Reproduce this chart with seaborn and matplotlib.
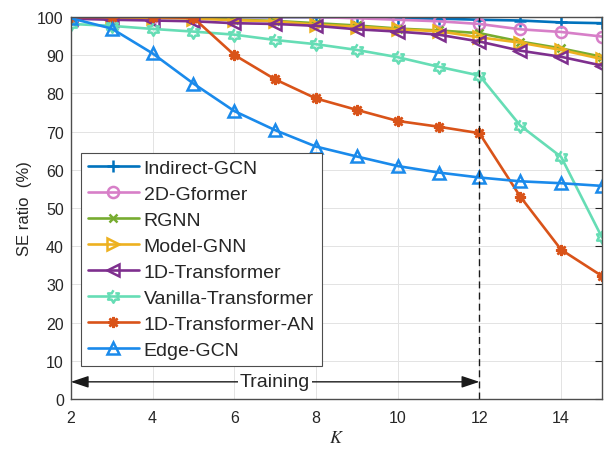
import numpy as np
import pandas as pd
import matplotlib
matplotlib.use('Agg')
import matplotlib.pyplot as plt
import seaborn as sns

# K values (number of users) and SE ratio (%) for each model
K = [2, 3, 4, 5, 6, 7, 8, 9, 10, 11, 12, 13, 14, 15]

indirect_gcn = [100, 100, 100, 100, 100, 100, 100, 99.9, 99.7, 99.6, 99.3, 99.1, 98.6, 98.4]
gformer_2d = [100, 100, 100, 100, 100, 100, 100, 99.7, 99.3, 98.9, 98.2, 96.8, 96.1, 94.9]
rgnn = [100, 100, 100, 99.8, 99.3, 99.0, 98.4, 97.8, 97.0, 96.5, 95.8, 93.6, 91.8, 89.6]
model_gnn = [100, 100, 99.8, 99.6, 99.2, 98.9, 98.0, 97.5, 96.8, 96.3, 94.7, 93.3, 91.4, 89.0]
transformer_1d = [99.6, 99.3, 99.1, 98.9, 98.4, 98.2, 97.7, 96.8, 96.2, 95.4, 93.6, 91.2, 89.6, 87.3]
vanilla_transformer = [98.2, 97.7, 96.9, 96.2, 95.4, 94.0, 92.9, 91.4, 89.5, 87.0, 84.7, 71.6, 63.4, 42.3]
transformer_1d_an = [100, 100, 100, 99.8, 90.1, 83.7, 78.7, 75.7, 72.8, 71.3, 69.6, 53.0, 39.1, 32.2]
edge_gcn = [99.7, 97.0, 90.5, 82.6, 75.4, 70.4, 66.1, 63.5, 61.0, 59.3, 58.0, 57.0, 56.5, 55.8]

model_names = ['Indirect-GCN', '2D-Gformer', 'RGNN', 'Model-GNN', '1D-Transformer',
               'Vanilla-Transformer', '1D-Transformer-AN', 'Edge-GCN']
series = [indirect_gcn, gformer_2d, rgnn, model_gnn, transformer_1d,
          vanilla_transformer, transformer_1d_an, edge_gcn]

train_limit = 12
x_ticks = [2, 4, 6, 8, 10, 12, 14]
y_ticks = list(range(0, 101, 10))

# hexagram marker (MATLAB 'h')
ang = np.pi / 2 + np.arange(12) * np.pi / 6
rad = np.where(np.arange(12) % 2 == 0, 1.0, 0.58)
hexagram = list(zip(rad * np.cos(ang), rad * np.sin(ang)))

styles = {
    'Indirect-GCN': dict(color='#0072BD', marker='+', ms=9),
    '2D-Gformer': dict(color='#D77FC8', marker='o', ms=8),
    'RGNN': dict(color='#77AC30', marker='x', ms=6),
    'Model-GNN': dict(color='#EDB120', marker='>', ms=8),
    '1D-Transformer': dict(color='#7E2F8E', marker='<', ms=8),
    'Vanilla-Transformer': dict(color='#66DDB5', marker=hexagram, ms=9),
    '1D-Transformer-AN': dict(color='#D95319', marker=(8, 2, 0), ms=8),
    'Edge-GCN': dict(color='#1A8AEB', marker='^', ms=9),
}

df = pd.DataFrame({'K': np.tile(K, len(series)),
                   'SE': np.concatenate(series),
                   'Model': np.repeat(model_names, len(K))})

sns.set_theme(style='whitegrid')
plt.rcParams['font.family'] = ['Liberation Sans', 'DejaVu Sans']
plt.rcParams['mathtext.fontset'] = 'stix'

fig = plt.figure(figsize=(6.05, 4.52), dpi=100)
ax = fig.add_axes([0.117, 0.115, 0.878, 0.845])

for name in model_names:
    st = styles[name]
    sns.lineplot(data=df[df['Model'] == name], x='K', y='SE', ax=ax,
                 color=st['color'], marker=st['marker'], markersize=st['ms'],
                 markerfacecolor='none', markeredgecolor=st['color'],
                 markeredgewidth=1.8, linewidth=1.9, label=name)

# training boundary
ax.plot([train_limit, train_limit], [0, 100], color='k', lw=1, dashes=(5, 3))
ax.annotate('', xy=(K[0], 4.5), xytext=(train_limit, 4.5),
            arrowprops=dict(arrowstyle='<|-|>,head_length=0.9,head_width=0.3',
                            color='k', lw=1, shrinkA=0, shrinkB=0))
ax.text(7, 4.5, 'Training', ha='center', va='center', fontsize=14,
        bbox=dict(facecolor='white', edgecolor='none', pad=1.5))

ax.set_xlim(2, 15)
ax.set_ylim(0, 100)
ax.set_xticks(x_ticks)
ax.set_yticks(y_ticks)
ax.set_xlabel('$K$', fontsize=13, labelpad=3)
ax.set_ylabel('SE ratio  (%)', fontsize=12, labelpad=4)
ax.tick_params(direction='in', length=5, width=0.8, colors='#262626',
               labelsize=11.5, top=True, right=True)
ax.tick_params(axis='x', pad=8)
ax.tick_params(axis='y', pad=5)
ax.grid(True, color='#e3e3e3', lw=0.7)
for sp in ax.spines.values():
    sp.set_visible(True)
    sp.set_color('#4d4d4d')
    sp.set_linewidth(1.0)

leg = ax.legend(loc='upper left', bbox_to_anchor=(0.02, 0.645), fontsize=14,
                frameon=True, fancybox=False, framealpha=1, edgecolor='#4d4d4d',
                handlelength=2.6, handletextpad=0.25, labelspacing=0.43,
                borderpad=0.35, borderaxespad=0)
leg.get_frame().set_linewidth(0.8)

fig.savefig('out.png', dpi=100)
